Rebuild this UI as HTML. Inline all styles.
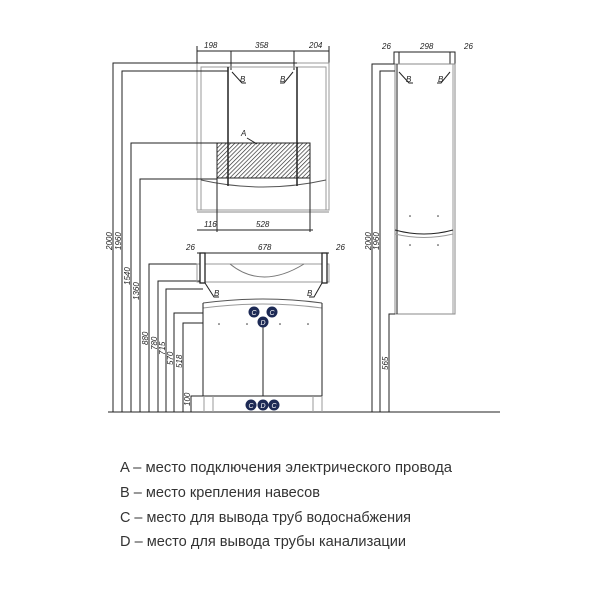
<!DOCTYPE html>
<html><head><meta charset="utf-8"><style>
html,body{margin:0;padding:0;background:#fff;width:600px;height:600px;overflow:hidden}
svg{display:block}
.d{font-family:"Liberation Sans Narrow","Liberation Sans",sans-serif;font-size:8px;font-style:italic;fill:#222}
.l{font-family:"Liberation Sans Narrow","Liberation Sans",sans-serif;font-size:15px;fill:#333}
.c{fill:#1d2a55}
.ct{font-family:"Liberation Sans",sans-serif;font-size:7px;fill:#fff;font-style:italic;text-anchor:middle}
</style></head><body>
<svg width="600" height="600" viewBox="0 0 600 600" xmlns="http://www.w3.org/2000/svg">
<defs><pattern id="h" width="3" height="3" patternUnits="userSpaceOnUse" patternTransform="rotate(45)"><line x1="0" y1="0" x2="0" y2="3" stroke="#222" stroke-width="1.3"/></pattern></defs>
<g fill="none" stroke="#222" stroke-width="1">
<!-- floor -->
<line x1="108" y1="412" x2="500" y2="412"/>
<!-- mirror cabinet dims -->
<line x1="197" y1="51" x2="329" y2="51"/>
<line x1="197" y1="46" x2="197" y2="63"/><line x1="329" y1="46" x2="329" y2="63"/>
<line x1="231" y1="51" x2="231" y2="70"/><line x1="294" y1="51" x2="294" y2="70"/>
<!-- mirror cabinet -->
<rect x="197" y="63" width="132" height="147" stroke="#999"/>
<rect x="201" y="67" width="125" height="143" stroke="#999"/>
<path d="M201 180 Q263 194 326 180" stroke="#555"/>
<line x1="228" y1="67" x2="228" y2="186" stroke-width="1.5"/>
<line x1="297" y1="67" x2="297" y2="186" stroke-width="1.5"/>
<rect x="217" y="143" width="93" height="35" fill="url(#h)" stroke="#222"/>
<line x1="197" y1="212" x2="329" y2="212" stroke="#888"/>
<line x1="197" y1="230" x2="313" y2="230"/>
<line x1="217" y1="178" x2="217" y2="232"/><line x1="310" y1="178" x2="310" y2="232"/>
<!-- leader B -->
<polyline points="232,72 242,83 246,83"/><polyline points="293,72 284,83 280,83"/>
<polyline points="247,138 257,144"/>
<!-- left dim verticals -->
<polyline points="113,412 113,63 297,63"/>
<polyline points="122,412 122,71 228,71"/>
<polyline points="131,412 131,143 217,143"/>
<polyline points="140,412 140,179 217,179"/>
<polyline points="149,412 149,264 197,264"/>
<polyline points="158,412 158,281 200,281"/>
<polyline points="166,412 166,289 203,289"/>
<polyline points="174,412 174,313 203,313"/>
<polyline points="183,412 183,323 203,323"/>
<polyline points="191,412 191,396 203,396"/>
<!-- vanity -->
<line x1="197" y1="253" x2="329" y2="253"/>
<rect x="197" y="264" width="132" height="18" stroke="#999"/>
<rect x="200" y="253" width="5" height="30" fill="#fff" stroke-width="1.3"/>
<rect x="322" y="253" width="5" height="30" fill="#fff" stroke-width="1.3"/>
<path d="M230 264 Q262 290 304 264" stroke="#777"/>
<path d="M203 303 Q263 295 322 303" stroke="#555"/>
<path d="M203 308 Q263 300 322 308" stroke="#999"/>
<line x1="203" y1="303" x2="203" y2="396"/><line x1="322" y1="303" x2="322" y2="396"/>
<line x1="203" y1="396" x2="322" y2="396"/>
<line x1="263" y1="323" x2="263" y2="396"/>
<line x1="204" y1="396" x2="204" y2="412" stroke="#999"/><line x1="213" y1="396" x2="213" y2="412" stroke="#999"/>
<line x1="313" y1="396" x2="313" y2="412" stroke="#999"/><line x1="322" y1="396" x2="322" y2="412" stroke="#999"/>
<polyline points="205,283 214,297 219,297"/><polyline points="322,283 314,297 309,297"/>
<!-- column -->
<line x1="394" y1="52" x2="455" y2="52"/>
<rect x="394" y="52" width="5" height="12" fill="#fff"/><rect x="450" y="52" width="5" height="12" fill="#fff"/>
<rect x="395" y="64" width="60" height="250" stroke="#888"/>
<line x1="397" y1="64" x2="397" y2="314"/><line x1="453" y1="64" x2="453" y2="314" stroke="#999"/>
<path d="M395 230 Q424 238 453 230"/><path d="M395 234 Q424 241 453 234" stroke="#999"/>
<polyline points="372,412 372,64 394,64"/>
<polyline points="380,412 380,71 395,71"/>
<polyline points="389,412 389,314 395,314"/>
<polyline points="399,72 409,83 413,83"/><polyline points="450,72 441,83 437,83"/>
</g>
<g fill="#333"><circle cx="410" cy="216" r=".8"/><circle cx="438" cy="216" r=".8"/><circle cx="410" cy="245" r=".8"/><circle cx="438" cy="245" r=".8"/>
<circle cx="219" cy="324" r=".8"/><circle cx="247" cy="324" r=".8"/><circle cx="280" cy="324" r=".8"/><circle cx="308" cy="324" r=".8"/></g>
<!-- dimension text -->
<g class="d">
<text x="204" y="48">198</text><text x="255" y="48">358</text><text x="309" y="48">204</text>
<text x="204" y="227">116</text><text x="256" y="227">528</text>
<text x="186" y="250">26</text><text x="258" y="250">678</text><text x="336" y="250">26</text>
<text x="382" y="49">26</text><text x="420" y="49">298</text><text x="464" y="49">26</text>
<text x="240" y="82">В</text><text x="280" y="82">В</text><text x="241" y="136">А</text>
<text x="214" y="296">В</text><text x="307" y="296">В</text>
<text x="406" y="82">В</text><text x="438" y="82">В</text>
<text transform="translate(112,250) rotate(-90)">2000</text>
<text transform="translate(121,250) rotate(-90)">1960</text>
<text transform="translate(130,285) rotate(-90)">1540</text>
<text transform="translate(139,300) rotate(-90)">1360</text>
<text transform="translate(148,345) rotate(-90)">880</text>
<text transform="translate(157,350) rotate(-90)">780</text>
<text transform="translate(165,355) rotate(-90)">715</text>
<text transform="translate(173,365) rotate(-90)">570</text>
<text transform="translate(182,368) rotate(-90)">518</text>
<text transform="translate(190,406) rotate(-90)">100</text>
<text transform="translate(371,250) rotate(-90)">2000</text>
<text transform="translate(379,250) rotate(-90)">1960</text>
<text transform="translate(388,370) rotate(-90)">565</text>
</g>
<!-- C/D markers -->
<circle class="c" cx="254" cy="312" r="5.5"/><text class="ct" x="254" y="315">C</text>
<circle class="c" cx="272" cy="312" r="5.5"/><text class="ct" x="272" y="315">C</text>
<circle class="c" cx="263" cy="322" r="5.5"/><text class="ct" x="263" y="325">D</text>
<circle class="c" cx="251" cy="405" r="5.5"/><text class="ct" x="251" y="408">C</text>
<circle class="c" cx="263" cy="405" r="5.5"/><text class="ct" x="263" y="408">D</text>
<circle class="c" cx="274" cy="405" r="5.5"/><text class="ct" x="274" y="408">C</text>
<!-- legend -->
<text class="l" x="120" y="472" textLength="332" lengthAdjust="spacingAndGlyphs">A – место подключения электрического провода</text>
<text class="l" x="120" y="497" textLength="200" lengthAdjust="spacingAndGlyphs">B – место крепления навесов</text>
<text class="l" x="120" y="522" textLength="291" lengthAdjust="spacingAndGlyphs">C – место для вывода труб водоснабжения</text>
<text class="l" x="120" y="546" textLength="286" lengthAdjust="spacingAndGlyphs">D – место для вывода трубы канализации</text>
</svg>
</body></html>
